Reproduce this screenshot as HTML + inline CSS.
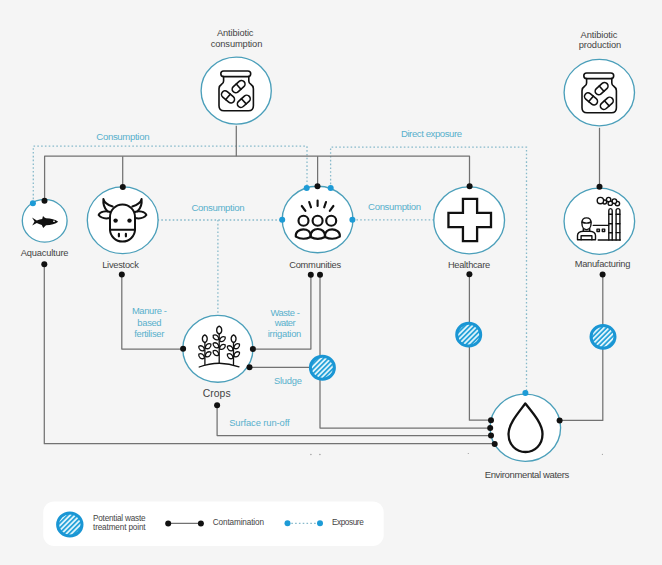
<!DOCTYPE html>
<html><head><meta charset="utf-8">
<style>
html,body{margin:0;padding:0;background:#f5f5f5;}
body{width:662px;height:565px;overflow:hidden;}
svg{display:block;}
text{font-family:"Liberation Sans",sans-serif;}
.t{fill:#444;font-size:9px;}
.b{fill:#58b0cc;font-size:9px;}
.ln{stroke:#727272;stroke-width:1.25;fill:none;stroke-linejoin:round;}
.dt{stroke:#88bacb;stroke-width:1.3;fill:none;stroke-dasharray:1.6 2.2;}
.c{fill:#fff;stroke:#4b9fba;stroke-width:1.35;}
.ic{fill:none;stroke:#111;stroke-width:1.7;stroke-linecap:round;stroke-linejoin:round;}
.kd{fill:#111;}
.bd{fill:#1d9bd6;}
</style></head>
<body>
<svg width="662" height="565" viewBox="0 0 662 565">
<defs>
<pattern id="hatch" patternUnits="userSpaceOnUse" width="3.5" height="3.5" patternTransform="rotate(45)">
<rect width="3.5" height="3.5" fill="#22a0d8"/>
<rect x="0" width="1.8" height="3.5" fill="#dff4fb"/>
</pattern>
</defs>

<!-- dotted exposure lines -->
<path class="dt" d="M33.3 203 V146.2 H307 V188"/>
<path class="dt" d="M330.6 188 V147.2 H526.5 V393"/>
<path class="dt" d="M157.5 220 H282.4"/>
<path class="dt" d="M217.9 220 V314"/>
<path class="dt" d="M352.6 219.8 H433.7"/>

<!-- contamination lines -->
<path class="ln" d="M236.3 125.8 V156.2"/>
<path class="ln" d="M44.6 200.6 V156.2 H469.5 V186.3"/>
<path class="ln" d="M122.7 156.2 V187"/>
<path class="ln" d="M317.6 156.2 V186.2"/>
<path class="ln" d="M599.5 127.8 V186.7"/>
<path class="ln" d="M44.3 264.3 V443.7 H494.8"/>
<path class="ln" d="M121.8 274.6 V349 H183.1"/>
<path class="ln" d="M310.9 274.7 V349 H252.9"/>
<path class="ln" d="M320 274.7 V428.1 H490.1"/>
<path class="ln" d="M249.5 367.4 H322"/>
<path class="ln" d="M217.1 405.2 V435.5 H491"/>
<path class="ln" d="M469.4 274.2 V420.2 H491"/>
<path class="ln" d="M602.8 274.5 V420.4 H559.6"/>

<!-- circles -->
<ellipse class="c" cx="236.2" cy="90.65" rx="35.1" ry="33.5"/>
<ellipse class="c" cx="599.3" cy="92.6" rx="35.2" ry="33.2"/>
<ellipse class="c" cx="44.7" cy="220.75" rx="22.4" ry="21.4"/>
<ellipse class="c" cx="122.7" cy="220.25" rx="35.4" ry="33.4"/>
<ellipse class="c" cx="317.6" cy="219.5" rx="35.4" ry="33.3"/>
<ellipse class="c" cx="469.15" cy="220.35" rx="35.4" ry="33.5"/>
<ellipse class="c" cx="599.35" cy="221.2" rx="35.3" ry="33.1"/>
<ellipse class="c" cx="217.85" cy="348.8" rx="35.1" ry="33.4"/>
<ellipse class="c" cx="525.3" cy="427.7" rx="35.3" ry="33.6"/>


<!-- icons -->
<g id="jar" class="ic" style="stroke-width:1.6">
<rect x="220.8" y="71" width="29.9" height="5.6" rx="2.8"/>
<path d="M223.6 76.6 V81 Q223.6 83.2 221.6 84.3 Q219 85.9 219 88.8 V105.8 Q219 110.8 224 110.8 H248.5 Q253.4 110.8 253.4 105.8 V88.8 Q253.4 85.9 250.8 84.3 Q248.8 83.2 248.8 81 V76.6"/>
<g transform="translate(238.6 86.6) rotate(-42)"><rect x="-7.4" y="-3.5" width="14.8" height="7" rx="3.5"/><path d="M0 -3.5 V3.5"/></g>
<g transform="translate(228 96.9) rotate(40)"><rect x="-7.4" y="-3.5" width="14.8" height="7" rx="3.5"/><path d="M0 -3.5 V3.5"/></g>
<g transform="translate(243.8 101.3) rotate(-42)"><rect x="-7.4" y="-3.5" width="14.8" height="7" rx="3.5"/><path d="M0 -3.5 V3.5"/></g>
</g>
<use href="#jar" transform="translate(363 2)"/>

<!-- fish -->
<path fill="#111" d="M32 217.6 C33.6 218.6 35.2 219.6 36.8 220.4 C38.8 219.6 40.6 219.1 42.2 218.9 L43 215.9 C44 216.9 45 217.8 46 218.3 C51 218.4 55.5 219.8 58.2 221.7 C55.5 223.8 51 225.1 46 225.3 L43.2 227.9 L41.8 224.9 C39.8 224.4 38.2 223.6 36.8 222.9 C35.2 223.7 33.6 224.8 32.2 225.6 C33 224.2 33.8 222.8 34.5 221.5 C33.8 220.2 32.8 218.8 32 217.6 Z"/>
<ellipse cx="54" cy="221.2" rx="1" ry="0.8" fill="#fff"/>

<!-- cow -->
<g class="ic" style="stroke-width:2">
<path d="M110 217 A12.5 12.5 0 0 1 135 217 V229.3 A12.5 12.3 0 0 1 110 229.3 Z"/>
<path d="M110 229.7 H135"/>
<path d="M110 212 C106 210.5 100 211.5 98.6 215 C101 218 106 218.8 110 218"/>
<path d="M135 212 C139 210.5 145 211.5 146.4 215 C144 218 139 218.8 135 218"/>
<path d="M112.7 206.5 C108 205 104 202 103.4 199 C103 203 104 208 107.5 211.3"/>
<path d="M132.3 206.5 C137 205 141 202 141.6 199 C142 203 141 208 137.5 211.3"/>
<path d="M118.9 233.9 V236.3 M125.9 233.9 V236.3" style="stroke-width:2.2"/>
</g>
<circle cx="115.6" cy="220.6" r="2.2" fill="#111"/>
<circle cx="129.5" cy="220.6" r="2.2" fill="#111"/>

<!-- communities -->
<g class="ic" style="stroke-width:2.15">
<circle cx="303.5" cy="220.7" r="5"/>
<circle cx="317.6" cy="220.7" r="5"/>
<circle cx="331.2" cy="220.7" r="5"/>
<path d="M295.8 236.6 C295.2 231.6 299.6 229.3 303.3 229.3 C307.4 229.3 311 231.2 310.6 237 C306 239.2 300 239 295.8 236.6 Z"/>
<path d="M310.6 237 C310.2 231.4 314 229 317.8 229 C321.6 229 325.4 231.4 325 237 C320.5 239.4 315 239.4 310.6 237 Z"/>
<path d="M325 237 C324.6 231.2 328.4 229.3 332.2 229.3 C335.8 229.3 340.4 231.6 339.8 236.6 C335.6 239 329.6 239.2 325 237 Z"/>
<path d="M301.8 206 L305.4 210.8 M309.2 202 L311 207.3 M317.6 200.6 V206 M326 202 L324.2 207.3 M333.4 206 L329.8 210.8"/>
</g>

<!-- healthcare cross -->
<path class="ic" style="stroke-width:2.3;stroke-linejoin:miter;stroke-linecap:butt" d="M462.95 198.8 H477.1 V212.8 H491 V227.2 H477.1 V241.1 H462.95 V227.2 H448.45 V212.8 H462.95 Z"/>

<!-- manufacturing -->
<g class="ic" style="stroke-width:1.4">
<path d="M581.9 223 C581.9 219.5 583.8 217.9 586.5 217.9 C589.2 217.9 591.1 219.5 591.1 223 C591.1 227 589 229.6 586.5 229.6 C584 229.6 581.9 227 581.9 223 Z"/>
<path d="M582 222 Q586.5 224.2 591 222"/>
<path d="M583.3 228.6 V231.3 M589.7 228.6 V231.3"/>
<path d="M577.5 239.8 V235.6 C577.5 233 579.6 231.5 583.3 231.3 H589.7 C593.4 231.5 595.5 233 595.5 235.6 V239.8 Z"/>
<path d="M581.1 239.8 V235.8 H591.9 V239.8"/>
<path d="M593.3 225.4 H608.6"/>
<rect x="597" y="229.1" width="2.4" height="2.4"/>
<rect x="602.3" y="229.1" width="2.4" height="2.4"/>
<path d="M598.2 240 H620.3"/>
<path d="M608.8 240 V210.4 Q608.8 208.6 610.5 208.6 Q612.2 208.6 612.2 210.4 V240"/>
<path d="M616.1 240 V210.4 Q616.1 208.6 618 208.6 Q619.9 208.6 619.9 210.4 V240"/>
<path d="M608.8 214.3 H612.2 M608.8 223.8 H612.2 M608.8 232.8 H612.2 M616.1 214.3 H619.9 M616.1 223.8 H619.9 M616.1 232.6 H619.9"/>
<g fill="#fff">
<circle cx="617.4" cy="203.6" r="2.2"/>
<circle cx="614.4" cy="201.2" r="2.3"/>
<circle cx="610.3" cy="203.2" r="2.2"/>
<circle cx="608.6" cy="199.6" r="2.2"/>
<circle cx="604.6" cy="202" r="2"/>
<circle cx="600.4" cy="200.6" r="3.2"/>
</g>
</g>

<!-- wheat -->
<g class="ic" style="stroke-width:1.3">
<path d="M199.2 367 Q219 359.6 239 366.8"/>
<path d="M219.2 363.3 V334"/>
<path d="M204.9 364.5 V342.5"/>
<path d="M233.5 364.5 V342.5"/>
<path transform="translate(219.2 330.2) rotate(90)" d="M-4.0 0 C-2.48 -3.38 2.48 -3.38 4.0 0 C2.48 3.38 -2.48 3.38 -4.0 0 Z"/>
<path transform="translate(204.8 338.7) rotate(90)" d="M-3.9 0 C-2.42 -3.25 2.42 -3.25 3.9 0 C2.42 3.25 -2.42 3.25 -3.9 0 Z"/>
<path transform="translate(233.6 338.7) rotate(90)" d="M-3.9 0 C-2.42 -3.25 2.42 -3.25 3.9 0 C2.42 3.25 -2.42 3.25 -3.9 0 Z"/>
<path transform="translate(215.9 337.4) rotate(38)" d="M-3.4 0 C-2.11 -2.86 2.11 -2.86 3.4 0 C2.11 2.86 -2.11 2.86 -3.4 0 Z"/>
<path transform="translate(215.9 345.3) rotate(38)" d="M-3.4 0 C-2.11 -2.86 2.11 -2.86 3.4 0 C2.11 2.86 -2.11 2.86 -3.4 0 Z"/>
<path transform="translate(215.9 353) rotate(38)" d="M-3.4 0 C-2.11 -2.86 2.11 -2.86 3.4 0 C2.11 2.86 -2.11 2.86 -3.4 0 Z"/>
<path transform="translate(222.5 339.1) rotate(-38)" d="M-3.4 0 C-2.11 -2.86 2.11 -2.86 3.4 0 C2.11 2.86 -2.11 2.86 -3.4 0 Z"/>
<path transform="translate(222.5 346.9) rotate(-38)" d="M-3.4 0 C-2.11 -2.86 2.11 -2.86 3.4 0 C2.11 2.86 -2.11 2.86 -3.4 0 Z"/>
<path transform="translate(201.5 348.3) rotate(38)" d="M-3.4 0 C-2.11 -2.86 2.11 -2.86 3.4 0 C2.11 2.86 -2.11 2.86 -3.4 0 Z"/>
<path transform="translate(201.5 356.2) rotate(38)" d="M-3.4 0 C-2.11 -2.86 2.11 -2.86 3.4 0 C2.11 2.86 -2.11 2.86 -3.4 0 Z"/>
<path transform="translate(208.2 346.2) rotate(-38)" d="M-3.4 0 C-2.11 -2.86 2.11 -2.86 3.4 0 C2.11 2.86 -2.11 2.86 -3.4 0 Z"/>
<path transform="translate(208.2 354.3) rotate(-38)" d="M-3.4 0 C-2.11 -2.86 2.11 -2.86 3.4 0 C2.11 2.86 -2.11 2.86 -3.4 0 Z"/>
<path transform="translate(230.1 348.3) rotate(38)" d="M-3.4 0 C-2.11 -2.86 2.11 -2.86 3.4 0 C2.11 2.86 -2.11 2.86 -3.4 0 Z"/>
<path transform="translate(230.1 356.2) rotate(38)" d="M-3.4 0 C-2.11 -2.86 2.11 -2.86 3.4 0 C2.11 2.86 -2.11 2.86 -3.4 0 Z"/>
<path transform="translate(236.8 346.2) rotate(-38)" d="M-3.4 0 C-2.11 -2.86 2.11 -2.86 3.4 0 C2.11 2.86 -2.11 2.86 -3.4 0 Z"/>
<path transform="translate(236.8 354.3) rotate(-38)" d="M-3.4 0 C-2.11 -2.86 2.11 -2.86 3.4 0 C2.11 2.86 -2.11 2.86 -3.4 0 Z"/>
</g>

<!-- drop -->
<path class="ic" style="stroke-width:2.3" d="M525.3 403.5 C519 412 508.5 423.5 508.5 434 C508.5 444.5 516 452 525.5 452 C535 452 542.5 444.5 542.5 434 C542.5 423.5 532 412 525.3 403.5 Z"/>

<!-- treatment points -->
<g stroke="#1a96d4" stroke-width="3" fill="url(#hatch)">
<ellipse cx="322.4" cy="367.75" rx="12" ry="11.4"/>
<ellipse cx="468.7" cy="334.7" rx="12" ry="11.4"/>
<ellipse cx="603" cy="336.8" rx="12" ry="11.4"/>
</g>

<!-- dots -->
<g class="kd">
<circle cx="44.5" cy="200.8" r="3"/>
<circle cx="122.8" cy="187" r="3"/>
<circle cx="317.5" cy="186.3" r="3"/>
<circle cx="469.6" cy="186.3" r="3"/>
<circle cx="599.5" cy="186.7" r="3"/>
<circle cx="44.3" cy="264.3" r="3"/>
<circle cx="121.8" cy="274.6" r="3"/>
<circle cx="310.8" cy="274.7" r="3"/>
<circle cx="320" cy="274.7" r="3"/>
<circle cx="469.4" cy="274.3" r="3"/>
<circle cx="602.6" cy="274.6" r="3"/>
<circle cx="183.1" cy="348.7" r="3"/>
<circle cx="252.9" cy="348.9" r="3"/>
<circle cx="249.5" cy="367.3" r="3"/>
<circle cx="217.1" cy="405.2" r="3"/>
<circle cx="491" cy="420.2" r="3"/>
<circle cx="490.2" cy="428.1" r="3"/>
<circle cx="491" cy="435.4" r="3"/>
<circle cx="494.7" cy="443.9" r="3"/>
<circle cx="559.6" cy="420.4" r="3"/>
</g>
<g class="bd">
<circle cx="32.9" cy="203.3" r="3"/>
<circle cx="306.7" cy="188" r="3"/>
<circle cx="330.7" cy="188" r="3"/>
<circle cx="282.2" cy="219.8" r="3"/>
<circle cx="352.4" cy="219.8" r="3"/>
<circle cx="525.4" cy="393" r="3"/>
</g>

<!-- texts -->
<g class="t" text-anchor="middle">
<text x="235.20" y="36.1" style="font-size:9.3px" textLength="36.6">Antibiotic</text>
<text x="236.50" y="46.8" style="font-size:9.3px" textLength="51.6">consumption</text>
<text x="599.00" y="38.1" style="font-size:9.3px" textLength="36.8">Antibiotic</text>
<text x="599.95" y="47.9" style="font-size:9.3px" textLength="42.3">production</text>
<text x="44.65" y="256.1" style="font-size:9.3px" textLength="47.7">Aquaculture</text>
<text x="120.55" y="267.6" style="font-size:9.3px" textLength="36.7">Livestock</text>
<text x="315.15" y="267.6" style="font-size:9.3px" textLength="51.9">Communities</text>
<text x="469.05" y="267.7" style="font-size:9.3px" textLength="42.3">Healthcare</text>
<text x="602.55" y="266.8" style="font-size:9.3px" textLength="55.7">Manufacturing</text>
<text x="216.68" y="397" style="font-size:10.4px" textLength="27.9">Crops</text>
<text x="527.00" y="477.6" style="font-size:9.5px" textLength="84.6">Environmental waters</text>
</g>
<g class="b" text-anchor="middle">
<text x="122.90" y="139.6" style="font-size:9.6px" textLength="53.2">Consumption</text>
<text x="431.50" y="137.1" style="font-size:9.6px" textLength="61.2">Direct exposure</text>
<text x="218.00" y="210.9" style="font-size:9.6px" textLength="53.2">Consumption</text>
<text x="394.55" y="210.3" style="font-size:9.6px" textLength="52.9">Consumption</text>
<text x="149.45" y="314.4" style="font-size:9.4px" textLength="35.1">Manure -</text>
<text x="149.47" y="326.2" style="font-size:9.4px" textLength="24.2">based</text>
<text x="149.25" y="336.6" style="font-size:9.4px" textLength="30.1">fertiliser</text>
<text x="285.15" y="315.6" style="font-size:9.4px" textLength="29.3">Waste -</text>
<text x="285.20" y="326.3" style="font-size:9.4px" textLength="20.8">water</text>
<text x="284.50" y="337.4" style="font-size:9.4px" textLength="33.6">irrigation</text>
<text x="288.00" y="383.6" style="font-size:9.4px" textLength="28.0">Sludge</text>
<text x="259.40" y="426.2" style="font-size:9.4px" textLength="60.4">Surface run-off</text>
</g>

<g fill="#999">
<circle cx="310.9" cy="454.5" r="0.7"/>
<circle cx="319.9" cy="454.5" r="0.7"/>
<circle cx="468.3" cy="453.5" r="0.6"/>
<circle cx="602.4" cy="454.3" r="0.6"/>
</g>

<!-- legend -->
<rect x="43.2" y="501.4" width="340.5" height="44.5" rx="11" fill="#fff"/>
<ellipse cx="69.8" cy="524.5" rx="12.2" ry="11.6" fill="url(#hatch)" stroke="#1a96d4" stroke-width="3"/>
<g class="t" style="font-size:8.2px">
<text x="93" y="521.4" textLength="52.6">Potential waste</text>
<text x="93" y="530.1" textLength="52.6">treatment point</text>
<text x="212.8" y="524.5" textLength="51.2">Contamination</text>
<text x="331.9" y="524.5" textLength="31.8">Exposure</text>
</g>
<path class="ln" d="M168.2 523.4 H200.9"/>
<circle class="kd" cx="168.2" cy="523.4" r="3"/>
<circle class="kd" cx="200.9" cy="523.4" r="3"/>
<path class="dt" d="M287.5 523.3 H320"/>
<circle class="bd" cx="287.5" cy="523.3" r="3"/>
<circle class="bd" cx="320" cy="523.3" r="3"/>

</svg>
</body></html>
